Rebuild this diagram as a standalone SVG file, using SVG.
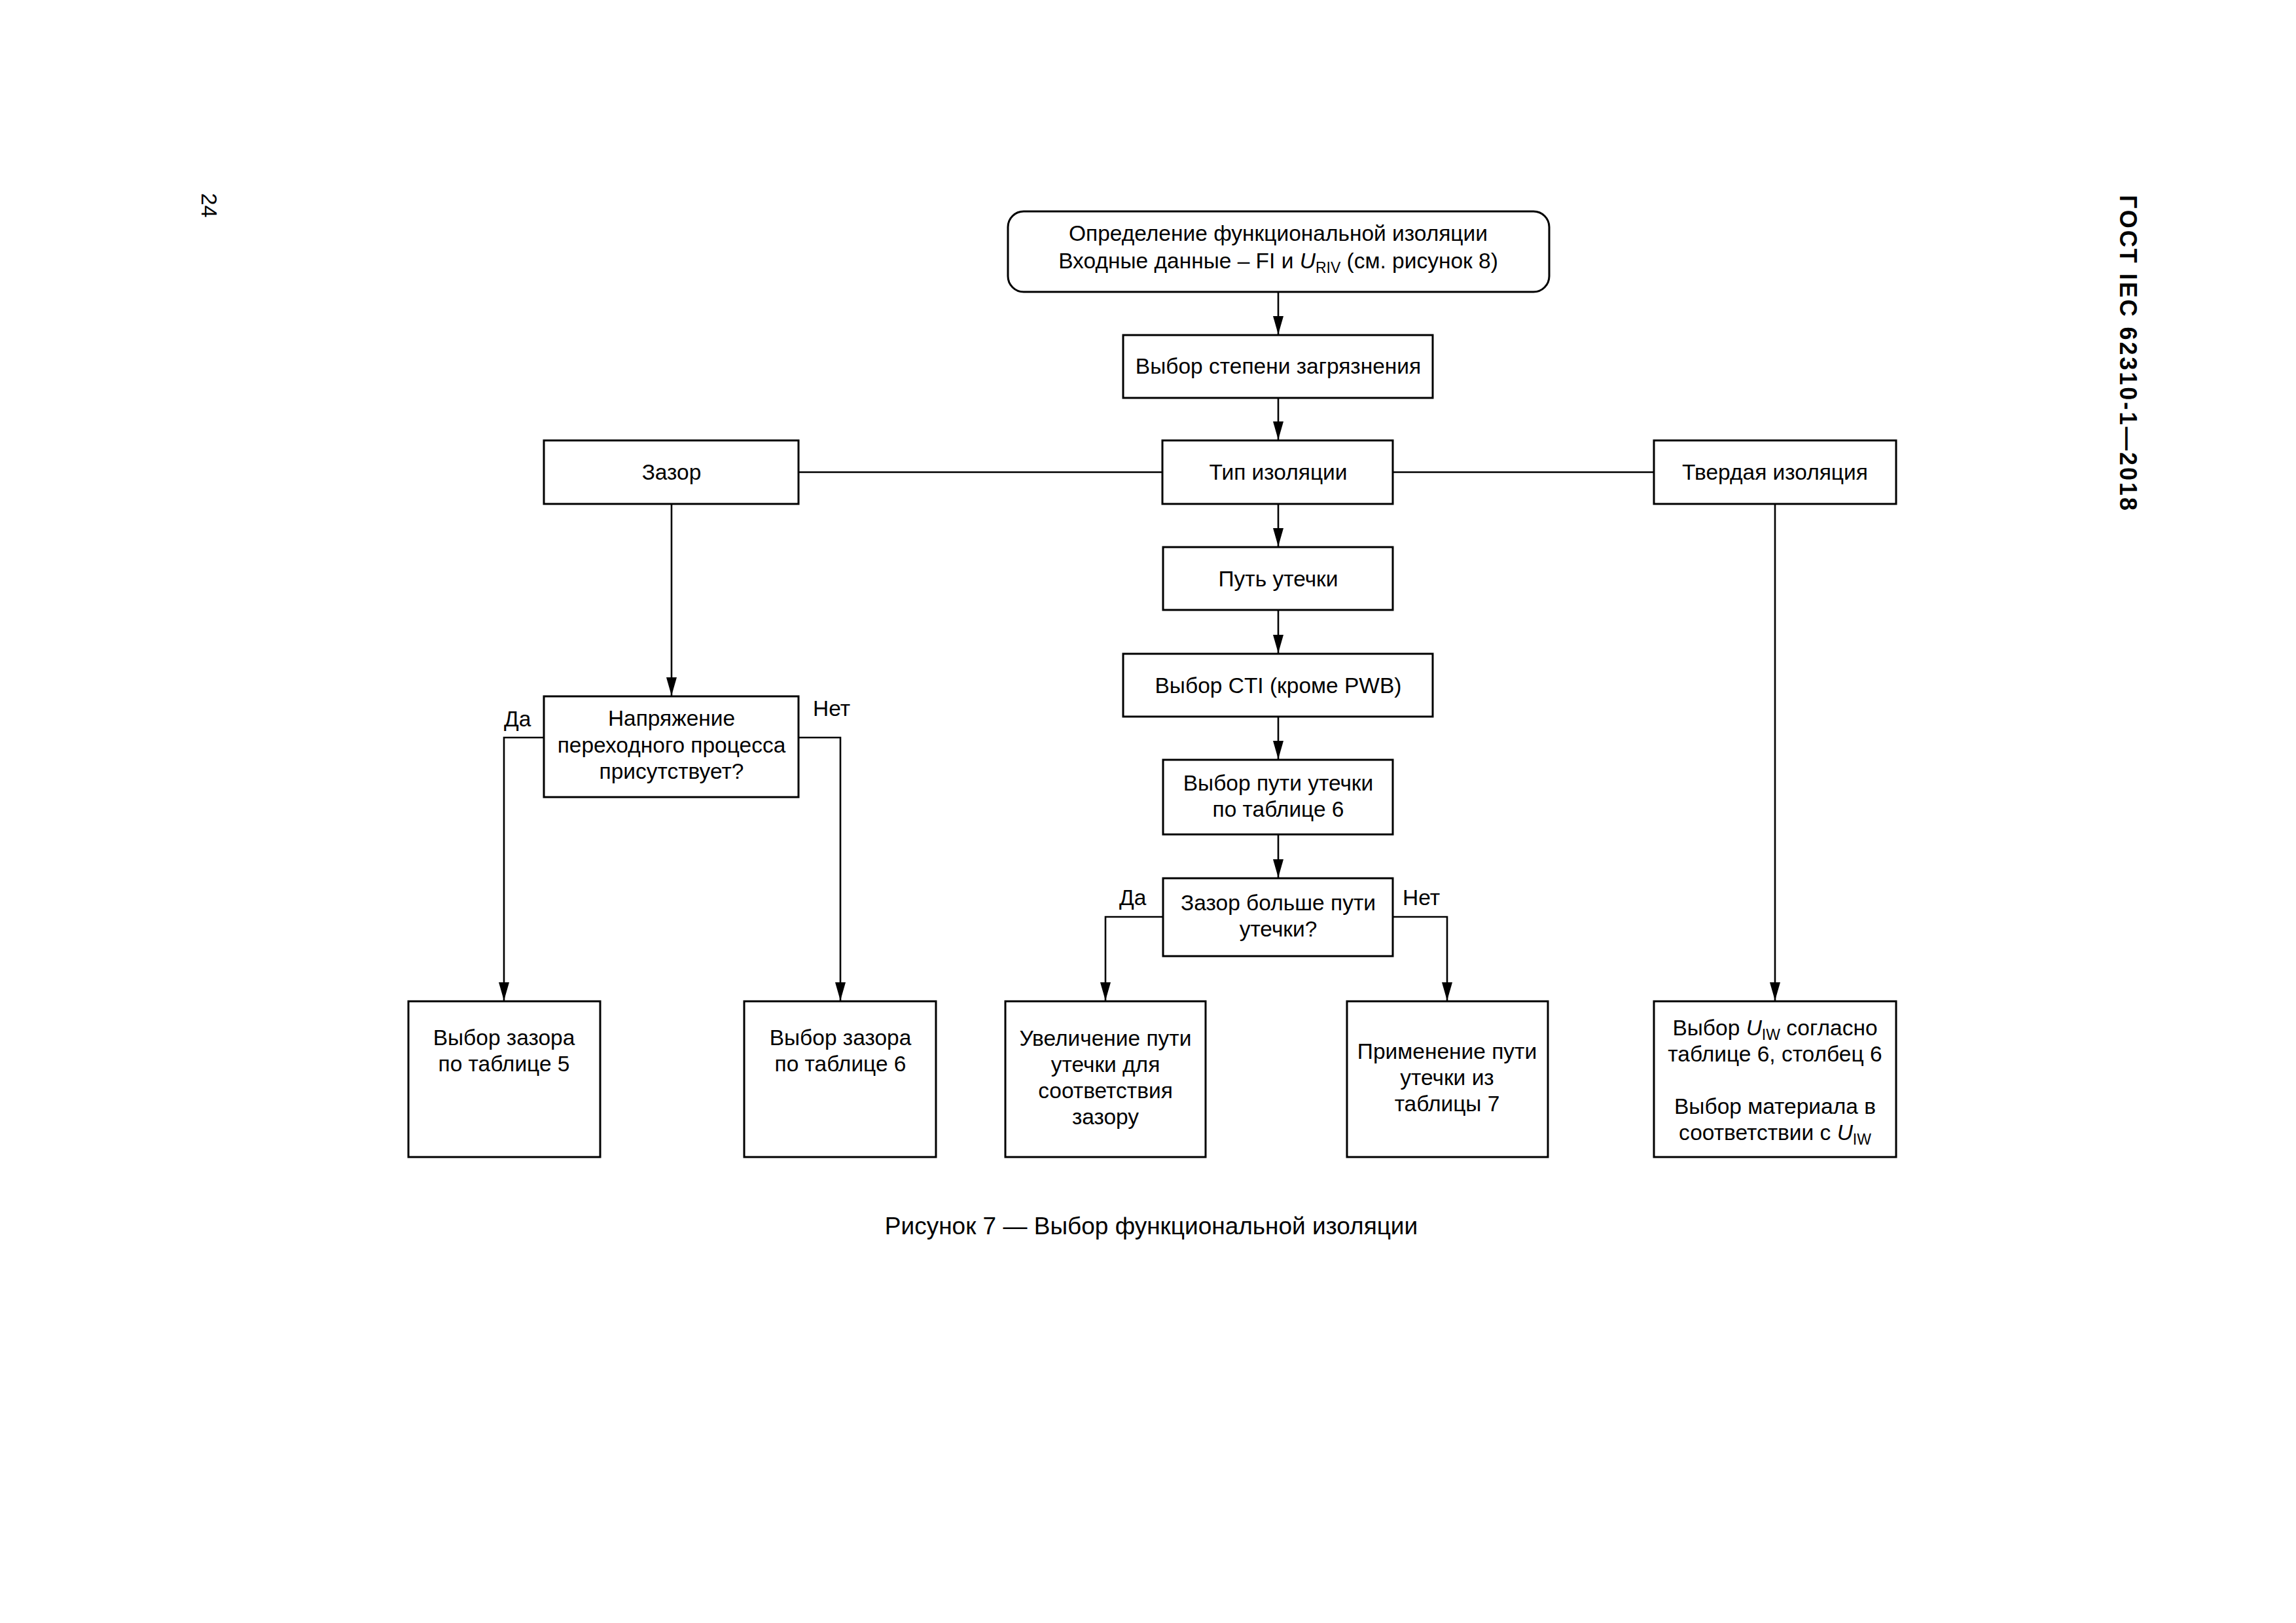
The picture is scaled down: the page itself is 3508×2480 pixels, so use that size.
<svg xmlns="http://www.w3.org/2000/svg" width="3508" height="2480" viewBox="0 0 3508 2480">
<style>
text{font-family:"Liberation Sans",Arial,sans-serif;font-size:33.5px;fill:#000}
.c{text-anchor:middle}
.box{fill:#fff;stroke:#000;stroke-width:3}
.ln{fill:none;stroke:#000;stroke-width:2.6}
.sub{font-size:23px}
.it{font-style:italic}
</style>
<defs>
<marker id="ah" markerWidth="28" markerHeight="16" refX="28" refY="8" viewBox="0 0 28 16" markerUnits="userSpaceOnUse" orient="auto">
<path d="M0,0 L28,8 L0,16 Z" fill="#000"/>
</marker>
</defs>
<rect width="3508" height="2480" fill="#fff"/>
<text x="0" y="0" transform="translate(308,295) rotate(90)">24</text>
<text x="0" y="0" transform="translate(3239,298) rotate(90)" style="font-weight:bold;font-size:36px" textLength="482">ГОСТ IEC 62310-1—2018</text>
<g id="connectors">
<line class="ln" x1="1953" y1="446" x2="1953" y2="511" marker-end="url(#ah)"/>
<line class="ln" x1="1953" y1="608" x2="1953" y2="672" marker-end="url(#ah)"/>
<line class="ln" x1="1953" y1="770" x2="1953" y2="835" marker-end="url(#ah)"/>
<line class="ln" x1="1953" y1="932" x2="1953" y2="998" marker-end="url(#ah)"/>
<line class="ln" x1="1953" y1="1095" x2="1953" y2="1160" marker-end="url(#ah)"/>
<line class="ln" x1="1953" y1="1275" x2="1953" y2="1341" marker-end="url(#ah)"/>
<line class="ln" x1="1219" y1="721.5" x2="1776" y2="721.5"/>
<line class="ln" x1="2128" y1="721.5" x2="2527" y2="721.5"/>
<line class="ln" x1="1026" y1="770" x2="1026" y2="1063" marker-end="url(#ah)"/>
<polyline class="ln" points="831,1127 770,1127 770,1529" marker-end="url(#ah)"/>
<polyline class="ln" points="1220,1127 1284,1127 1284,1529" marker-end="url(#ah)"/>
<polyline class="ln" points="1777,1401 1689,1401 1689,1529" marker-end="url(#ah)"/>
<polyline class="ln" points="2128,1401 2211,1401 2211,1529" marker-end="url(#ah)"/>
<line class="ln" x1="2712" y1="770" x2="2712" y2="1529" marker-end="url(#ah)"/>
<text x="770" y="1110">Да</text>
<text x="1242" y="1094">Нет</text>
<text x="1710" y="1383">Да</text>
<text x="2143" y="1383">Нет</text>
</g>
<g id="n-start">
<rect class="box" x="1540" y="323" width="827" height="123" rx="24"/>
<text class="c" x="1953" y="368">Определение функциональной изоляции</text>
<text class="c" x="1953" y="410">Входные данные – FI и <tspan class="it">U</tspan><tspan class="sub" dy="7">RIV</tspan><tspan dy="-7"> (см. рисунок 8)</tspan></text>
</g>
<g id="n-pollution">
<rect class="box" x="1716" y="512" width="473" height="96"/>
<text class="c" x="1953" y="571">Выбор степени загрязнения</text>
</g>
<g id="n-type">
<rect class="box" x="1776" y="673" width="352" height="97"/>
<text class="c" x="1953" y="733">Тип изоляции</text>
</g>
<g id="n-clearance">
<rect class="box" x="831" y="673" width="389" height="97"/>
<text class="c" x="1026" y="733">Зазор</text>
</g>
<g id="n-solid">
<rect class="box" x="2527" y="673" width="370" height="97"/>
<text class="c" x="2712" y="733">Твердая изоляция</text>
</g>
<g id="n-creepage">
<rect class="box" x="1777" y="836" width="351" height="96"/>
<text class="c" x="1953" y="896">Путь утечки</text>
</g>
<g id="n-cti">
<rect class="box" x="1716" y="999" width="473" height="96"/>
<text class="c" x="1953" y="1059">Выбор CTI (кроме PWB)</text>
</g>
<g id="n-creepage-table">
<rect class="box" x="1777" y="1161" width="351" height="114"/>
<text class="c" x="1953" y="1208">Выбор пути утечки</text>
<text class="c" x="1953" y="1248">по таблице 6</text>
</g>
<g id="n-decision2">
<rect class="box" x="1777" y="1342" width="351" height="119"/>
<text class="c" x="1953" y="1391">Зазор больше пути</text>
<text class="c" x="1953" y="1431">утечки?</text>
</g>
<g id="n-decision1">
<rect class="box" x="831" y="1064" width="389" height="154"/>
<text class="c" x="1026" y="1109">Напряжение</text>
<text class="c" x="1026" y="1150">переходного процесса</text>
<text class="c" x="1026" y="1190">присутствует?</text>
</g>
<g id="n-table5">
<rect class="box" x="624" y="1530" width="293" height="238"/>
<text class="c" x="770" y="1597">Выбор зазора</text>
<text class="c" x="770" y="1637">по таблице 5</text>
</g>
<g id="n-table6">
<rect class="box" x="1137" y="1530" width="293" height="238"/>
<text class="c" x="1284" y="1597">Выбор зазора</text>
<text class="c" x="1284" y="1637">по таблице 6</text>
</g>
<g id="n-increase">
<rect class="box" x="1536" y="1530" width="306" height="238"/>
<text class="c" x="1689" y="1598">Увеличение пути</text>
<text class="c" x="1689" y="1638">утечки для</text>
<text class="c" x="1689" y="1678">соответствия</text>
<text class="c" x="1689" y="1718">зазору</text>
</g>
<g id="n-table7">
<rect class="box" x="2058" y="1530" width="307" height="238"/>
<text class="c" x="2211" y="1618">Применение пути</text>
<text class="c" x="2211" y="1658">утечки из</text>
<text class="c" x="2211" y="1698">таблицы 7</text>
</g>
<g id="n-uiw">
<rect class="box" x="2527" y="1530" width="370" height="238"/>
<text class="c" x="2712" y="1582">Выбор <tspan class="it">U</tspan><tspan class="sub" dy="7">IW</tspan><tspan dy="-7"> согласно</tspan></text>
<text class="c" x="2712" y="1622">таблице 6, столбец 6</text>
<text class="c" x="2712" y="1702">Выбор материала в</text>
<text class="c" x="2712" y="1742">соответствии с <tspan class="it">U</tspan><tspan class="sub" dy="7">IW</tspan></text>
</g>
<text class="c" x="1759" y="1886" style="font-size:37px">Рисунок 7 — Выбор функциональной изоляции</text>
</svg>
